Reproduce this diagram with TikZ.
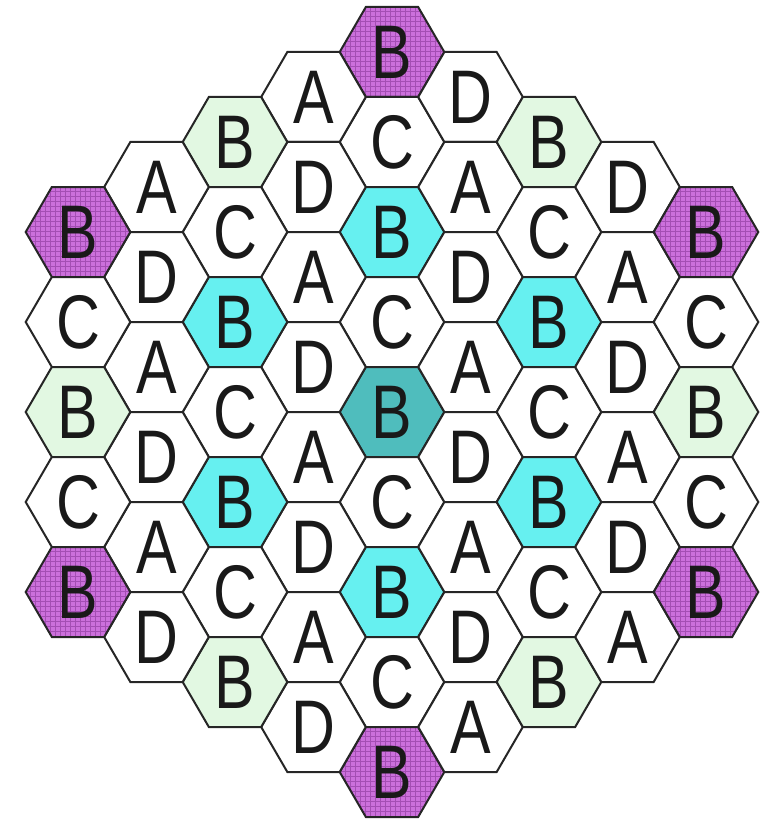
\documentclass[tikz,border=0pt]{standalone}
\usepackage{fontspec}
\setmainfont{Liberation Sans}
\usetikzlibrary{patterns}
\definecolor{linec}{HTML}{262626}
\definecolor{purpfill}{HTML}{CC70DC}
\definecolor{purpgrid}{HTML}{A44EB4}
\definecolor{cyanfill}{HTML}{66F0F0}
\definecolor{tealfill}{HTML}{4FBDBD}
\definecolor{greenfill}{HTML}{E2F8E2}
\pgfdeclarepatternformonly{mygrid}{\pgfqpoint{-1pt}{-1pt}}{\pgfqpoint{6pt}{6pt}}{\pgfqpoint{5pt}{5pt}}{%
  \pgfsetlinewidth{0.6pt}%
  \pgfpathmoveto{\pgfqpoint{0pt}{0pt}}\pgfpathlineto{\pgfqpoint{0pt}{5.1pt}}%
  \pgfpathmoveto{\pgfqpoint{0pt}{0pt}}\pgfpathlineto{\pgfqpoint{5.1pt}{0pt}}%
  \pgfusepath{stroke}}
\tikzset{
  hexw/.style={draw=linec, line width=2pt, fill=white},
  hexc/.style={draw=linec, line width=2pt, fill=cyanfill},
  hext/.style={draw=linec, line width=2pt, fill=tealfill},
  hexg/.style={draw=linec, line width=2pt, fill=greenfill},
  hexp/.style={draw=linec, line width=2pt, preaction={fill=purpfill}, pattern=mygrid, pattern color=purpgrid},
  lbl/.style={inner sep=0pt, text=black!90, font=\fontsize{76}{76}\selectfont}
}
\newcommand\hexcell[4]{%
  \pgfmathsetmacro\cx{392+78.5*#1}%
  \pgfmathsetmacro\cy{412+90*#2+45*#1}%
  \path[#3] (\cx+52.3,\cy) -- (\cx+26.15,\cy+45) -- (\cx-26.15,\cy+45) -- (\cx-52.3,\cy) -- (\cx-26.15,\cy-45) -- (\cx+26.15,\cy-45) -- cycle;
  \node[lbl] (h#1x#2) at (\cx,\cy) {\scalebox{0.8}[1]{#4}};%
}
\begin{document}
\begin{tikzpicture}[x=1pt,y=-1pt]
\useasboundingbox (0,0) rectangle (766,821);
% column q=0
\hexcell{0}{-4}{hexp}{B}
\hexcell{0}{-3}{hexw}{C}
\hexcell{0}{-2}{hexc}{B}
\hexcell{0}{-1}{hexw}{C}
\hexcell{0}{0}{hext}{B}
\hexcell{0}{1}{hexw}{C}
\hexcell{0}{2}{hexc}{B}
\hexcell{0}{3}{hexw}{C}
\hexcell{0}{4}{hexp}{B}
% column q=-1
\hexcell{-1}{-3}{hexw}{A}
\hexcell{-1}{-2}{hexw}{D}
\hexcell{-1}{-1}{hexw}{A}
\hexcell{-1}{0}{hexw}{D}
\hexcell{-1}{1}{hexw}{A}
\hexcell{-1}{2}{hexw}{D}
\hexcell{-1}{3}{hexw}{A}
\hexcell{-1}{4}{hexw}{D}
% column q=1
\hexcell{1}{-4}{hexw}{D}
\hexcell{1}{-3}{hexw}{A}
\hexcell{1}{-2}{hexw}{D}
\hexcell{1}{-1}{hexw}{A}
\hexcell{1}{0}{hexw}{D}
\hexcell{1}{1}{hexw}{A}
\hexcell{1}{2}{hexw}{D}
\hexcell{1}{3}{hexw}{A}
% column q=-2
\hexcell{-2}{-2}{hexg}{B}
\hexcell{-2}{-1}{hexw}{C}
\hexcell{-2}{0}{hexc}{B}
\hexcell{-2}{1}{hexw}{C}
\hexcell{-2}{2}{hexc}{B}
\hexcell{-2}{3}{hexw}{C}
\hexcell{-2}{4}{hexg}{B}
% column q=2
\hexcell{2}{-4}{hexg}{B}
\hexcell{2}{-3}{hexw}{C}
\hexcell{2}{-2}{hexc}{B}
\hexcell{2}{-1}{hexw}{C}
\hexcell{2}{0}{hexc}{B}
\hexcell{2}{1}{hexw}{C}
\hexcell{2}{2}{hexg}{B}
% column q=-3
\hexcell{-3}{-1}{hexw}{A}
\hexcell{-3}{0}{hexw}{D}
\hexcell{-3}{1}{hexw}{A}
\hexcell{-3}{2}{hexw}{D}
\hexcell{-3}{3}{hexw}{A}
\hexcell{-3}{4}{hexw}{D}
% column q=3
\hexcell{3}{-4}{hexw}{D}
\hexcell{3}{-3}{hexw}{A}
\hexcell{3}{-2}{hexw}{D}
\hexcell{3}{-1}{hexw}{A}
\hexcell{3}{0}{hexw}{D}
\hexcell{3}{1}{hexw}{A}
% column q=-4
\hexcell{-4}{0}{hexp}{B}
\hexcell{-4}{1}{hexw}{C}
\hexcell{-4}{2}{hexg}{B}
\hexcell{-4}{3}{hexw}{C}
\hexcell{-4}{4}{hexp}{B}
% column q=4
\hexcell{4}{-4}{hexp}{B}
\hexcell{4}{-3}{hexw}{C}
\hexcell{4}{-2}{hexg}{B}
\hexcell{4}{-1}{hexw}{C}
\hexcell{4}{0}{hexp}{B}
\end{tikzpicture}
\end{document}
